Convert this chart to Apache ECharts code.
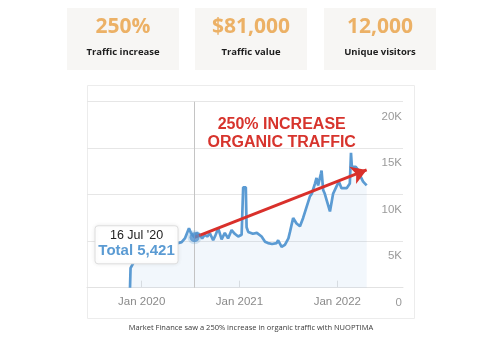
<!DOCTYPE html>
<html>
<head>
<meta charset="utf-8">
<style>
  html, body { margin: 0; padding: 0; background: #fff; }
  #main { width: 500px; height: 350px; }
</style>
<script src="https://cdn.jsdelivr.net/npm/echarts@6/dist/echarts.min.js"></script>
</head>
<body>
<div id="main"></div>
<script>
// stat cards
const statValues = ['250%', '$81,000', '12,000'];
const statLabels = ['Traffic increase', 'Traffic value', 'Unique visitors'];

// organic traffic
const trafficDates = [
  '2019-11-18', '2019-11-20', '2019-11-29', '2019-12-06', '2019-12-25',
  '2020-01-13', '2020-02-19', '2020-03-27', '2020-05-03', '2020-05-29',
  '2020-06-10', '2020-06-25', '2020-07-02', '2020-07-16', '2020-07-24',
  '2020-08-05', '2020-08-14', '2020-08-24', '2020-09-02', '2020-09-12',
  '2020-09-24', '2020-10-02', '2020-10-13', '2020-10-26', '2020-11-07',
  '2020-11-19', '2020-12-02', '2020-12-14', '2020-12-27',
  '2021-01-09', '2021-01-15', '2021-01-18', '2021-01-25', '2021-01-28',
  '2021-02-03', '2021-02-19', '2021-03-05', '2021-03-23', '2021-04-05',
  '2021-04-16', '2021-05-01', '2021-05-18', '2021-05-24', '2021-06-06',
  '2021-06-18', '2021-07-01', '2021-07-07', '2021-07-19', '2021-08-01',
  '2021-08-14', '2021-08-26', '2021-09-08', '2021-09-20', '2021-09-27',
  '2021-10-09', '2021-10-15', '2021-10-21', '2021-11-01', '2021-11-03',
  '2021-11-09', '2021-11-15', '2021-11-22', '2021-12-04', '2021-12-16',
  '2021-12-29', '2022-01-07', '2022-01-17', '2022-02-05', '2022-02-16',
  '2022-02-20', '2022-02-23', '2022-02-28', '2022-03-09', '2022-03-17',
  '2022-03-25', '2022-04-06', '2022-04-19'
];
const trafficValues = [
  0, 2100, 2600, 2900, 3200,
  3500, 3900, 4300, 4700, 4900,
  5300, 6400, 5900, 5421, 5900,
  5700, 5300, 5700, 5500, 5850,
  5100, 5600, 6400, 5200, 5900,
  5300, 6200, 5800, 5500,
  5700, 10800, 11000, 10800, 6500,
  6000, 5800, 5900, 5500, 4950,
  4800, 4700, 4800, 5100, 4400,
  4600, 5300, 6000, 7500, 6900,
  6600, 7500, 8700, 9800, 10100,
  11200, 11800, 11000, 12300, 12600,
  10500, 10100, 9400, 8200, 10100,
  10900, 11400, 10700, 10700, 11200,
  14500, 13000, 12800, 13000, 12700,
  12100, 11400, 11000
];

const xTickLabels = ['Jan 2020', 'Jan 2021', 'Jan 2022'];
const yTicks = [0, 5000, 10000, 15000, 20000];

// hovered point and trend arrow
const hoverDate = '2020-07-16';
const hoverValue = 5421;
const trendEndDate = '2022-04-19';
const trendEndValue = 12660;
const headline = ['250% INCREASE', 'ORGANIC TRAFFIC'];
const caption = 'Market Finance saw a 250% increase in organic traffic with NUOPTIMA';

const MONTHS = ['Jan','Feb','Mar','Apr','May','Jun','Jul','Aug','Sep','Oct','Nov','Dec'];

// months since Jan 2020, fractional
function toMonth(d) {
  const [y, m, day] = d.split('-').map(Number);
  const dim = new Date(y, m, 0).getDate();
  return (y - 2020) * 12 + (m - 1) + (day - 1) / dim;
}
function labelToMonth(s) {
  const [mon, yr] = s.split(' ');
  return (Number(yr) - 2020) * 12 + MONTHS.indexOf(mon);
}

const xTicks = xTickLabels.map(labelToMonth);
const lineData = trafficDates.map((d, i) => [toMonth(d), trafficValues[i]]);
const hoverX = toMonth(hoverDate);

const chart = echarts.init(document.getElementById('main'));

const option = {
  animation: false,
  grid: { left: 87, right: 97, top: 101.7, bottom: 62.3 },
  xAxis: {
    type: 'value',
    min: -6.71,
    max: 32.06,
    splitLine: { show: false },
    axisLine: { lineStyle: { color: '#e2e2e2' } },
    axisTick: {
      inside: true, length: 7, customValues: xTicks,
      lineStyle: { color: '#e2e2e2' }
    },
    axisLabel: {
      customValues: xTicks,
      margin: 8,
      color: '#8a8a8a',
      fontSize: 11.5,
      fontFamily: 'Liberation Sans',
      formatter: v => xTickLabels[xTicks.indexOf(v)] || ''
    }
  },
  yAxis: {
    type: 'value',
    position: 'right',
    min: yTicks[0],
    max: yTicks[yTicks.length - 1],
    interval: yTicks[1] - yTicks[0],
    axisLine: { show: false },
    axisTick: { show: false },
    splitLine: { lineStyle: { color: '#e6e6e6' } },
    axisLabel: {
      inside: true,
      margin: 1,
      color: '#9a9a9a',
      fontSize: 11.5,
      fontFamily: 'Liberation Sans',
      verticalAlign: 'top',
      lineHeight: 14,
      padding: [8, 0, 0, 0],
      formatter: v => (v ? v / 1000 + 'K' : '0')
    }
  },
  series: [
    {
      type: 'line',
      data: lineData,
      showSymbol: false,
      z: 2,
      lineStyle: { color: '#5b9bd3', width: 2.7 },
      areaStyle: { color: 'rgba(120,170,225,0.14)' },
      markLine: {
        silent: true,
        symbol: 'none',
        label: { show: false },
        lineStyle: { color: '#c4c4c4', width: 1, type: 'solid' },
        data: [{ xAxis: hoverX }]
      }
    },
    {
      type: 'scatter',
      data: [[hoverX, hoverValue]],
      z: 5,
      symbolSize: 10,
      itemStyle: {
        color: '#4f90cf',
        borderColor: 'rgba(91,155,211,0.3)',
        borderWidth: 4
      },
      markLine: {
        silent: true,
        z: 4,
        label: { show: false },
        lineStyle: { color: '#d9302b', width: 3, type: 'solid' },
        data: [[
          { coord: [hoverX, hoverValue], symbol: 'none' },
          { coord: [toMonth(trendEndDate), trendEndValue], symbol: 'arrow', symbolSize: [14, 15] }
        ]]
      }
    }
  ]
};
chart.setOption(option);

// annotations placed from the data point's pixel position
const [px, py] = chart.convertToPixel({ xAxisIndex: 0, yAxisIndex: 0 }, [hoverX, hoverValue]);
const hd = hoverDate.split('-').map(Number);
const dateText = hd[2] + ' ' + MONTHS[hd[1] - 1] + " '" + String(hd[0]).slice(2);
const totalText = 'Total ' + hoverValue.toLocaleString('en-US');

const cardX = [67, 195, 324];
const graphic = [
  {
    type: 'rect', z: -10,
    shape: { x: 87.5, y: 85.5, width: 327, height: 233 },
    style: { fill: '#fff', stroke: '#ececec', lineWidth: 1 }
  },
  {
    type: 'text', z: 10, x: 251, y: 328,
    style: {
      text: caption, fill: '#3a3a3a', font: '7.5px "Open Sans"',
      textAlign: 'center', align: 'center', textVerticalAlign: 'middle', verticalAlign: 'middle'
    }
  },
  {
    type: 'rect', z: 20,
    shape: { x: px - 99.5, y: py - 11.5, width: 83, height: 38, r: 3 },
    style: { fill: '#fff', stroke: '#dedede', lineWidth: 1, shadowBlur: 4, shadowColor: 'rgba(0,0,0,0.08)' }
  },
  {
    type: 'text', z: 21, x: px - 58, y: py - 1.5,
    style: {
      text: dateText, fill: '#222', font: '12.5px "Liberation Sans"',
      textAlign: 'center', align: 'center', textVerticalAlign: 'middle', verticalAlign: 'middle'
    }
  },
  {
    type: 'text', z: 21, x: px - 58, y: py + 14,
    style: {
      text: totalText, fill: '#5b9bd3', font: 'bold 15px "Liberation Sans"',
      textAlign: 'center', align: 'center', textVerticalAlign: 'middle', verticalAlign: 'middle'
    }
  }
];
headline.forEach((t, i) => {
  graphic.push({
    type: 'text', z: 10, x: 281.7, y: 124.3 + i * 18,
    style: {
      text: t, fill: '#d7342d', font: 'bold 16px "Liberation Sans"',
      textAlign: 'center', align: 'center', textVerticalAlign: 'middle', verticalAlign: 'middle'
    }
  });
});
statValues.forEach((v, i) => {
  const cx = cardX[i] + 56;
  graphic.push({
    type: 'rect', z: -10,
    shape: { x: cardX[i], y: 8, width: 112, height: 62 },
    style: { fill: '#f7f6f4' }
  });
  graphic.push({
    type: 'text', z: 10, x: cx, y: 27,
    style: {
      text: v, fill: '#ecb166', font: 'bold 21px "Open Sans"',
      textAlign: 'center', align: 'center', textVerticalAlign: 'middle', verticalAlign: 'middle'
    }
  });
  graphic.push({
    type: 'text', z: 10, x: cx, y: 52.5,
    style: {
      text: statLabels[i], fill: '#1e1e1e', font: 'bold 9.5px "Open Sans"',
      textAlign: 'center', align: 'center', textVerticalAlign: 'middle', verticalAlign: 'middle'
    }
  });
});
chart.setOption({ graphic: graphic });
</script>
</body>
</html>
